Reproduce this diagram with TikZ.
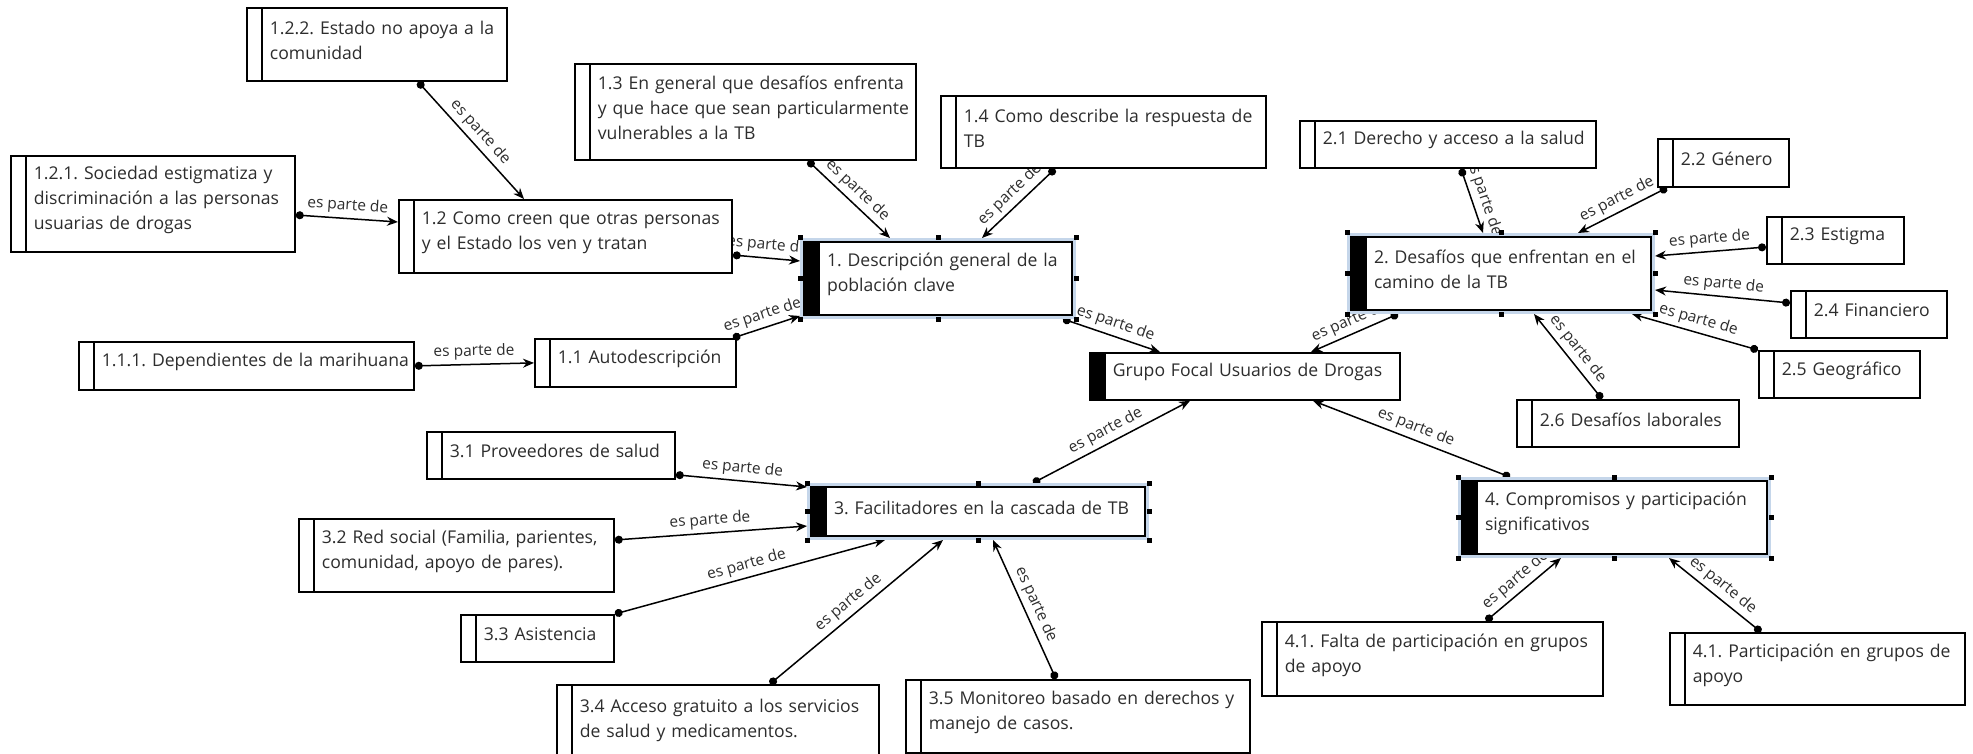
\documentclass[tikz,border=0pt]{standalone}
\usepackage{fontspec}
\setmainfont{Open Sans}
\frenchspacing
\usetikzlibrary{arrows.meta}
\pgfdeclarelayer{bg}
\pgfsetlayers{bg,main}
\definecolor{selblue}{RGB}{197,214,234}
\definecolor{boxtext}{RGB}{45,45,45}
\tikzset{
x=1pt, y=-1pt, % one unit is one pixel of the screenshot, y runs downwards
>={Stealth[length=11pt,width=9pt]}, % arrow heads of the links
box/.style={draw, line width=1.8pt, fill=white, anchor=north west, inner sep=0pt, align=left, text=boxtext, font=\fontsize{17.6}{25}\selectfont, execute at begin node={\leftskip=23pt}, execute at end node={\par\kern8pt}}, % every concept box
sub/.style={box, path picture={\draw[black, line width=1.8pt] ([xshift=15pt]path picture bounding box.north west) -- ([xshift=15pt]path picture bounding box.south west);}}, % thin bar on the left
topic/.style={box, path picture={\fill[black] (path picture bounding box.north west) rectangle ([xshift=16pt]path picture bounding box.south west);}}, % black bar on the left
picked/.style={topic, outer sep=4pt, preaction={draw=selblue, line width=8pt}}, % selected box
link/.style={{Circle[length=8pt]}->, line width=1.5pt}, % es parte de
lbl/.style={sloped, above=3pt, font=\fontsize{15.5}{18}\selectfont, inner sep=1pt, text=boxtext},
}

\begin{document}
\begin{tikzpicture}
\useasboundingbox (0,0) rectangle (1973,754);
\node[picked, text width=268, minimum height=73] (n1) at (800,238) {1. Descripción general de la\\población clave};
\node[picked, text width=300, minimum height=73] (n2) at (1347,233) {2. Desafíos que enfrentan en el\\camino de la TB};
\node[picked, text width=334, minimum height=49] (n3) at (807,483) {3. Facilitadores en la cascada de TB};
\node[picked, text width=305, minimum height=73] (n4) at (1458,477) {4. Compromisos y participación\\significativos};
\node[topic, text width=310, minimum height=47] (ng) at (1089,352) {Grupo Focal Usuarios de Drogas};
\node[sub, text width=260, minimum height=73] (n122) at (246,7) {1.2.2. Estado no apoya a la\\comunidad};
\node[sub, text width=284, minimum height=96] (n121) at (10,155) {1.2.1. Sociedad estigmatiza y\\discriminación a las personas\\usuarias de drogas};
\node[sub, text width=333, minimum height=73] (n12) at (398,199) {1.2 Como creen que otras personas\\y el Estado los ven y tratan};
\node[sub, text width=341, minimum height=96] (n13) at (574,63) {1.3 En general que desafíos enfrenta\\y que hace que sean particularmente\\vulnerables a la TB};
\node[sub, text width=325, minimum height=72] (n14) at (940,95) {1.4 Como describe la respuesta de\\TB};
\node[sub, text width=335, minimum height=48] (n111) at (78,341) {1.1.1. Dependientes de la marihuana};
\node[sub, text width=201, minimum height=48] (n11) at (534,338) {1.1 Autodescripción};
\node[sub, text width=296, minimum height=47] (n21) at (1299,120) {2.1 Derecho y acceso a la salud};
\node[sub, text width=131, minimum height=48] (n22) at (1657,138) {2.2 Género};
\node[sub, text width=137, minimum height=47] (n23) at (1766,216) {2.3 Estigma};
\node[sub, text width=156, minimum height=47] (n24) at (1790,290) {2.4 Financiero};
\node[sub, text width=161, minimum height=47] (n25) at (1758,350) {2.5 Geográfico};
\node[sub, text width=222, minimum height=47] (n26) at (1516,399) {2.6 Desafíos laborales};
\node[sub, text width=248, minimum height=47] (n31) at (426,431) {3.1 Proveedores de salud};
\node[sub, text width=315, minimum height=73] (n32) at (298,518) {3.2 Red social (Familia, parientes,\\comunidad, apoyo de pares).};
\node[sub, text width=153, minimum height=47] (n33) at (460,614) {3.3 Asistencia};
\node[sub, text width=322, minimum height=80] (n34) at (556,684) {3.4 Acceso gratuito a los servicios\\de salud y medicamentos.};
\node[sub, text width=344, minimum height=73] (n35) at (905,679) {3.5 Monitoreo basado en derechos y\\manejo de casos.};
\node[sub, text width=341, minimum height=74] (n41a) at (1261,621) {4.1. Falta de participación en grupos\\de apoyo};
\node[sub, text width=295, minimum height=72] (n41b) at (1669,632) {4.1. Participación en grupos de\\apoyo};
\foreach \m in {n1,n2,n3,n4}
  \foreach \a in {north west,north,north east,east,south east,south,south west,west}
    \fill (\m.\a) ++(-2.5pt,-2.5pt) rectangle ++(5pt,5pt);
\begin{pgfonlayer}{bg}
\draw[link] ([xshift=172]n122.south west) -- node[lbl] (l1) {es parte de} ([xshift=126]n12.north west);
\draw[link] ([yshift=-60]n121.north east) -- node[lbl] (l2) {es parte de} ([yshift=-23]n12.north west);
\draw[link] ([yshift=-56]n12.north east) -- node[lbl] (l3) {es parte de} ([yshift=-23]n1.north west);
\draw[link] ([xshift=-4]n11.north east) -- node[lbl] (l4) {es parte de} ([yshift=3]n1.south west);
\draw[link] (n111.east) -- node[lbl] (l5) {es parte de} (n11.west);
\draw[link] ([xshift=234]n13.south west) -- node[lbl] (l6) {es parte de} ([xshift=90]n1.north west);
\draw[link] ([xshift=115]n14.south west) -- node[lbl] (l7) {es parte de} ([xshift=182]n1.north west);
\draw[link] ([xshift=-13]n1.south east) -- node[lbl] (l8) {es parte de} ([xshift=71]ng.north west);
\draw[link] ([xshift=51]n2.south west) -- node[lbl] (l9) {es parte de} ([xshift=222]ng.north west);
\draw[link] ([xshift=162]n21.south west) -- node[lbl] (l10) {es parte de} ([xshift=136]n2.north west);
\draw[link] ([xshift=10]n22.south west) -- node[lbl] (l11) {es parte de} ([xshift=231]n2.north west);
\draw[link] ([yshift=-31]n23.north west) -- node[lbl] (l12) {es parte de} ([yshift=-23]n2.north east);
\draw[link] ([yshift=-13]n24.north west) -- node[lbl] (l13) {es parte de} ([yshift=-57]n2.north east);
\draw[link] (n25.north west) -- node[lbl] (l14) {es parte de} ([xshift=285]n2.south west);
\draw[link] ([xshift=86]n26.north west) -- node[lbl] (l15) {es parte de} ([xshift=187]n2.south west);
\draw[link] ([xshift=52]n4.north west) -- node[lbl] (l16) {es parte de} ([xshift=224]ng.south west);
\draw[link] ([xshift=226]n3.north west) -- node[lbl] (l17) {es parte de} ([xshift=101]ng.south west);
\draw[link] ([yshift=5]n31.south east) -- node[lbl] (l18) {es parte de} ([yshift=-4]n3.north west);
\draw[link] ([yshift=-22]n32.north east) -- node[lbl] (l19) {es parte de} ([yshift=-43]n3.north west);
\draw[link] (n33.north east) -- node[lbl] (l20) {es parte de} ([xshift=78]n3.south west);
\draw[link] ([xshift=214]n34.north west) -- node[lbl] (l21) {es parte de} ([xshift=136]n3.south west);
\draw[link] ([xshift=151]n35.north west) -- node[lbl] (l22) {es parte de} ([xshift=186]n3.south west);
\draw[link] ([xshift=225]n41a.north west) -- node[lbl] (l23) {es parte de} ([xshift=103]n4.south west);
\draw[link] ([xshift=92]n41b.north west) -- node[lbl] (l24) {es parte de} ([xshift=211]n4.south west);
\end{pgfonlayer}
\end{tikzpicture}
\end{document}
